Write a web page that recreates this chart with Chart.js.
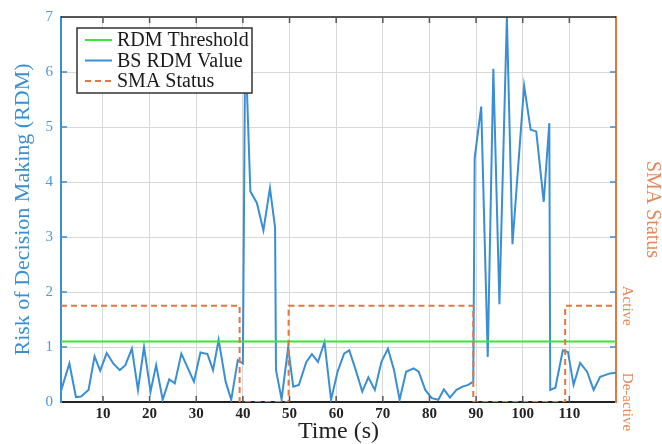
<!DOCTYPE html>
<html>
<head>
<meta charset="utf-8">
<script src="https://cdn.jsdelivr.net/npm/chart.js@4.4.1/dist/chart.umd.min.js"></script>
<style>
  html, body { margin: 0; padding: 0; background: #ffffff; }
  #wrap { width: 662px; height: 444px; }
</style>
</head>
<body>
<div id="wrap"><canvas id="rdmChart" width="662" height="444"></canvas></div>
<script>
// Sample times (s) of the base-station RDM estimate
const timeSec = [
  1, 2.8, 4.2, 5.3, 6.9, 8.2, 9.4, 10.8, 12.2, 13.6, 14.8, 16.2, 17.5, 18.8, 20.2,
  21.4, 22.8, 24.2, 25.4, 26.8, 29.5, 30.9, 32.4, 33.6, 34.8, 36.3, 37.5, 38.9, 40.0,
  40.5, 41.6, 43.0, 44.4, 45.8, 46.9, 47.1, 48.3, 49.7, 50.8, 52.0, 53.6, 54.8, 56.1,
  57.5, 58.9, 60.3, 61.7, 62.8, 64.2, 65.6, 66.9, 68.3, 69.7, 71.1, 72.4, 73.6, 75.0,
  76.6, 77.7, 79.1, 80.5, 81.9, 83.1, 84.4, 85.8, 87.1, 88.3, 89.4, 89.7, 91.1, 92.5,
  93.7, 95.0, 96.6, 97.8, 100.3, 101.7, 102.9, 104.5, 105.7, 105.9, 107.0, 108.6,
  109.7, 110.9, 112.3, 113.8, 115.2, 116.6, 118.7, 120
];
// Risk of decision making at each sample time
const rdmValue = [
  0.20, 0.70, 0.09, 0.10, 0.22, 0.83, 0.57, 0.89, 0.70, 0.58, 0.67, 0.97, 0.22, 1.00, 0.19,
  0.67, 0.04, 0.41, 0.34, 0.88, 0.37, 0.90, 0.87, 0.58, 1.13, 0.37, 0.04, 0.76, 0.70,
  6.60, 3.83, 3.62, 3.12, 3.89, 3.17, 0.58, 0.05, 0.99, 0.28, 0.31, 0.73, 0.87, 0.73,
  1.09, 0.04, 0.55, 0.88, 0.94, 0.58, 0.19, 0.45, 0.22, 0.73, 0.97, 0.58, 0.04, 0.55,
  0.61, 0.55, 0.22, 0.07, 0.04, 0.23, 0.08, 0.22, 0.28, 0.31, 0.37, 4.44, 5.37, 0.82,
  6.06, 1.78, 7.00, 2.87, 5.75, 4.95, 4.92, 3.64, 5.07, 0.22, 0.26, 0.94,
  0.91, 0.31, 0.71, 0.55, 0.22, 0.46, 0.52, 0.53
];
const rdmThreshold = 1.1;
const timeSpan = [1, 120];

// SMA status switching instants (s) and the state held from each instant
const smaTimes = [1, 39.3, 49.8, 89.4, 109.1, 120];
const smaState = [1, 0, 1, 0, 1, 1];

const timeTicks = [10, 20, 30, 40, 50, 60, 70, 80, 90, 100, 110];
const rdmTicks = [0, 1, 2, 3, 4, 5, 6, 7];
const smaTickLabels = ['De-active', 'Active'];

const SERIF = '"Liberation Serif", "Times New Roman", serif';
const BLUE = '#3a8fd4';
const BLUE_TEXT = '#4b9bd9';
const GREEN = '#37e637';
const ORANGE = '#e4763f';
const ORANGE_TEXT = '#e8875a';

const pairs = (xs, ys) => xs.map((x, i) => ({ x: x, y: ys[i] }));

// Extra frame pieces: top border and the small inward tick marks
const framePlugin = {
  id: 'frame',
  afterDatasetsDraw(chart) {
    const { ctx, chartArea: a, scales } = chart;
    ctx.save();
    ctx.lineWidth = 1.5;
    ctx.strokeStyle = '#222';
    ctx.beginPath();
    ctx.moveTo(a.left, a.top);
    ctx.lineTo(a.right, a.top);
    ctx.stroke();

    ctx.lineWidth = 1.5;
    ctx.strokeStyle = '#555';
    timeTicks.forEach(v => {
      const px = scales.x.getPixelForValue(v);
      ctx.beginPath();
      ctx.moveTo(px, a.bottom); ctx.lineTo(px, a.bottom - 6);
      ctx.moveTo(px, a.top); ctx.lineTo(px, a.top + 6);
      ctx.stroke();
    });
    ctx.strokeStyle = BLUE;
    rdmTicks.slice(1, -1).forEach(v => {
      const py = scales.y.getPixelForValue(v);
      ctx.beginPath();
      ctx.moveTo(a.left, py); ctx.lineTo(a.left + 6, py);
      ctx.moveTo(a.right, py); ctx.lineTo(a.right - 6, py);
      ctx.stroke();
    });
    ctx.restore();
  },
  afterDraw(chart) {
    const { ctx, scales } = chart;
    // rotated status labels of the right axis
    ctx.save();
    ctx.fillStyle = ORANGE_TEXT;
    ctx.font = '15px ' + SERIF;
    ctx.textAlign = 'center';
    ctx.textBaseline = 'middle';
    smaTickLabels.forEach((txt, i) => {
      const py = scales.y2.getPixelForValue(i);
      ctx.save();
      ctx.translate(627, py);
      ctx.rotate(Math.PI / 2);
      ctx.fillText(txt, 0, 0);
      ctx.restore();
    });
    ctx.restore();

    // boxed legend in the upper-left corner of the plot
    const box = { x: 77, y: 28, w: 175, h: 65 };
    ctx.save();
    ctx.fillStyle = '#ffffff';
    ctx.fillRect(box.x, box.y, box.w, box.h);
    ctx.lineWidth = 1.5;
    ctx.strokeStyle = '#333';
    ctx.strokeRect(box.x, box.y, box.w, box.h);
    ctx.font = '20px ' + SERIF;
    ctx.textBaseline = 'middle';
    ctx.textAlign = 'left';
    chart.data.datasets.forEach((ds, i) => {
      const cy = box.y + 12 + i * 20.5;
      ctx.strokeStyle = ds.borderColor;
      ctx.lineWidth = 2;
      ctx.setLineDash(ds.borderDash || []);
      ctx.beginPath();
      ctx.moveTo(box.x + 8, cy);
      ctx.lineTo(box.x + 35, cy);
      ctx.stroke();
      ctx.setLineDash([]);
      ctx.fillStyle = '#1a1a1a';
      ctx.fillText(ds.label, box.x + 40, cy + 1);
    });
    ctx.restore();
  }
};

new Chart(document.getElementById('rdmChart'), {
  type: 'line',
  data: {
    datasets: [
      {
        label: 'RDM Threshold',
        data: pairs(timeSpan, timeSpan.map(() => rdmThreshold)),
        borderColor: GREEN,
        borderWidth: 2,
        pointRadius: 0,
        yAxisID: 'y',
        order: 1
      },
      {
        label: 'BS RDM Value',
        data: pairs(timeSec, rdmValue),
        borderColor: BLUE,
        borderWidth: 2,
        pointRadius: 0,
        tension: 0,
        yAxisID: 'y',
        order: 2
      },
      {
        label: 'SMA Status',
        data: pairs(smaTimes, smaState),
        borderColor: ORANGE,
        borderWidth: 2,
        borderDash: [6, 4],
        pointRadius: 0,
        // each state is held until the next switching instant
        stepped: 'before',
        yAxisID: 'y2',
        order: 0
      }
    ]
  },
  options: {
    responsive: false,
    animation: false,
    devicePixelRatio: 1,
    layout: { padding: { top: 15, left: 0, right: 0, bottom: 0 } },
    plugins: { legend: { display: false }, tooltip: { enabled: false } },
    scales: {
      x: {
        type: 'linear',
        min: timeSpan[0],
        max: timeSpan[1],
        afterBuildTicks: s => { s.ticks = timeTicks.map(v => ({ value: v })); },
        afterFit: s => { s.height = 42; },
        grid: { color: '#d9d9d9', lineWidth: 1, drawTicks: false },
        border: { color: '#222', width: 2 },
        ticks: { color: '#222', padding: 3, font: { family: SERIF, size: 15, weight: 'bold' } },
        title: {
          display: true, text: 'Time (s)', color: '#222',
          font: { family: SERIF, size: 24, lineHeight: 1 },
          padding: { top: 0, bottom: 0 }
        }
      },
      y: {
        position: 'left',
        min: 0,
        max: 7,
        afterBuildTicks: s => { s.ticks = rdmTicks.map(v => ({ value: v })); },
        afterFit: s => { s.width = 61; },
        grid: { color: '#d9d9d9', lineWidth: 1, drawTicks: false },
        border: { color: BLUE, width: 2 },
        ticks: { color: BLUE_TEXT, padding: 8, font: { family: SERIF, size: 15 } },
        title: {
          display: true, text: 'Risk of Decision Making (RDM)', color: BLUE,
          font: { family: SERIF, size: 22, lineHeight: 1 },
          padding: { top: 12, bottom: 0 }
        }
      },
      y2: {
        position: 'right',
        min: 0,
        max: 4,
        afterFit: s => { s.width = 46; },
        grid: { display: false, drawOnChartArea: false },
        border: { color: ORANGE, width: 2 },
        ticks: { display: false },
        title: {
          display: true, text: 'SMA Status', color: ORANGE_TEXT,
          font: { family: SERIF, size: 20, lineHeight: 1 },
          padding: { top: 0, bottom: 0 }
        }
      }
    }
  },
  plugins: [framePlugin]
});
</script>
</body>
</html>
